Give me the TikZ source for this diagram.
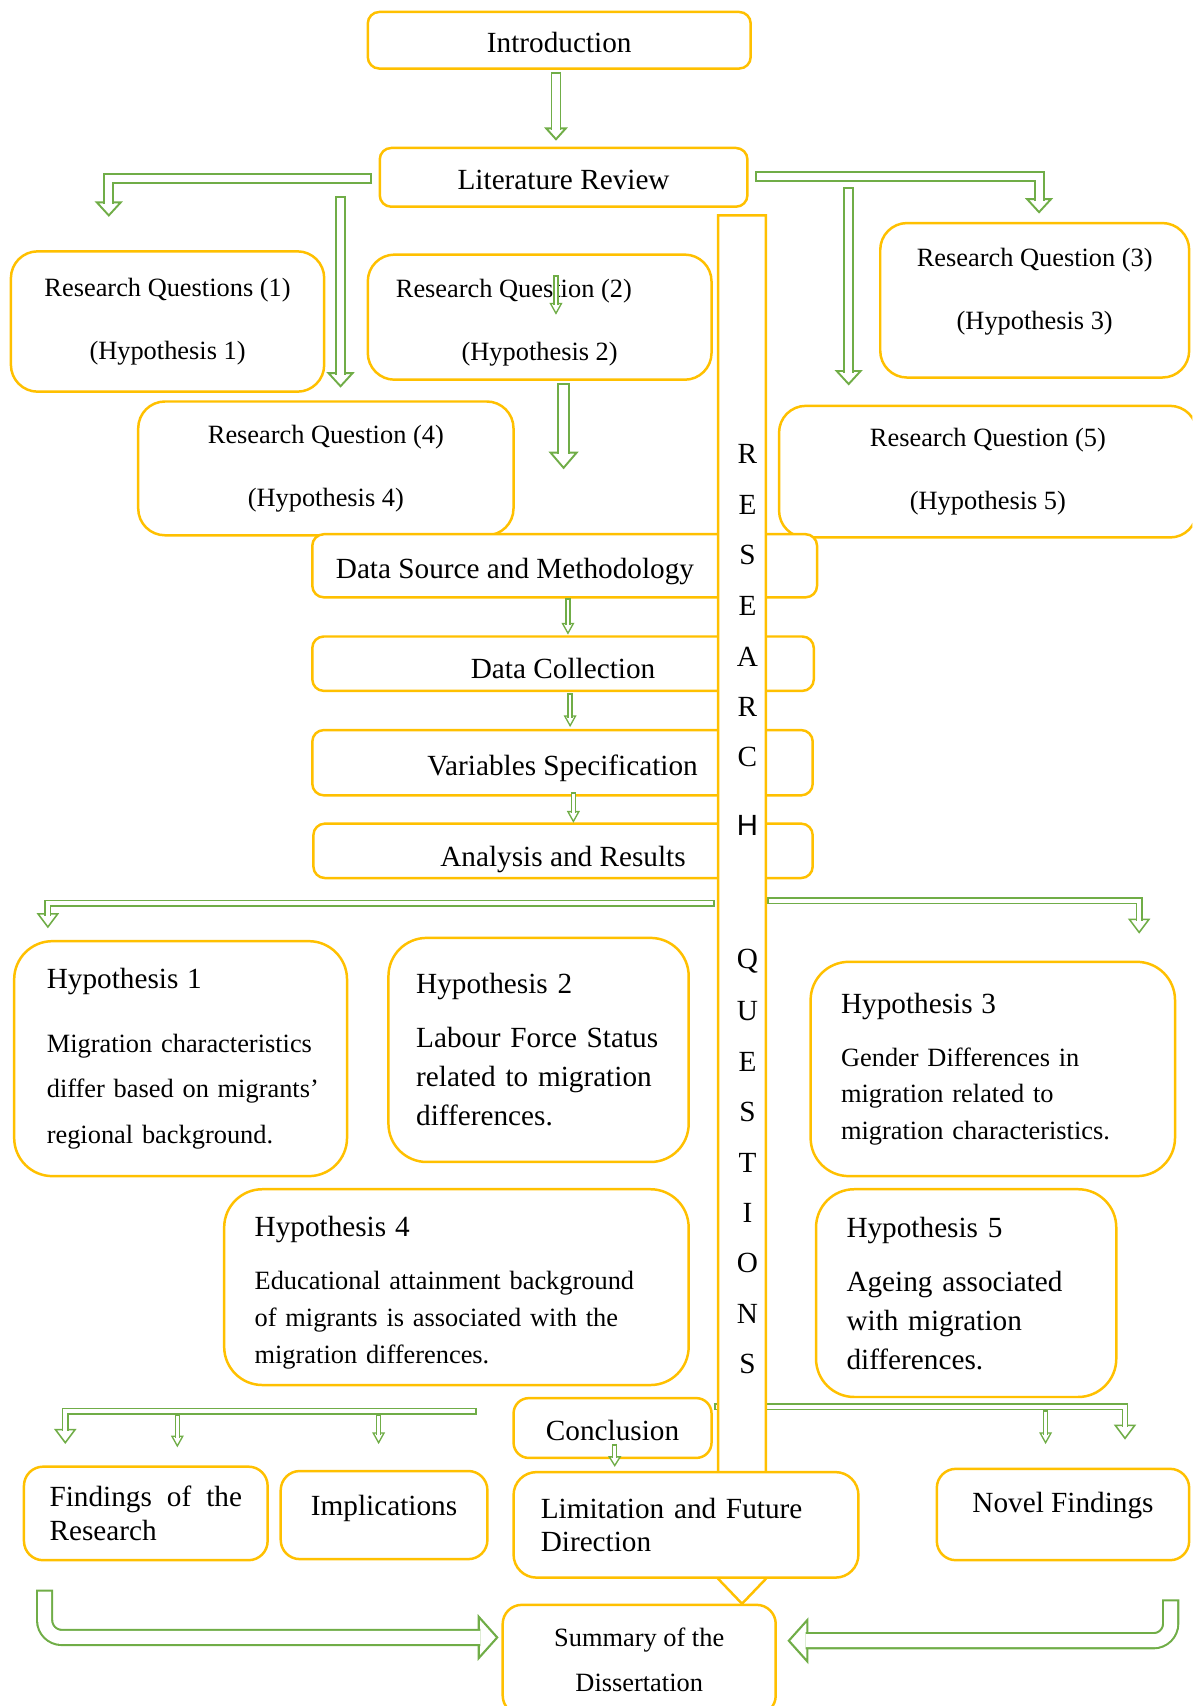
\documentclass[tikz,border=0pt]{standalone}
\usepackage{fontspec}
\setmainfont{Liberation Serif}
\setsansfont{Liberation Sans}
\usetikzlibrary{calc}

\definecolor{boxorange}{HTML}{FFC000}
\definecolor{arrgreen}{HTML}{70AD47}

\newcommand\bigtxt{\fontsize{15.3pt}{18pt}\selectfont}

% outlined block arrows: green stroke with a white core, open triangle head
\newcommand\shaft[3]{%
  \draw[draw=arrgreen, line width=#1] #3;
  \draw[draw=white, line width=#2, shorten <=1pt] #3;}
\newcommand\headD[4][]{\draw[ahead, #1] ($(#2)+(-#3,-#4)$) -- (#2) -- ($(#2)+(#3,-#4)$) -- cycle;}
\newcommand\headR[4][]{\draw[ahead, #1] ($(#2)+(-#4,-#3)$) -- (#2) -- ($(#2)+(-#4,#3)$) -- cycle;}
\newcommand\headL[4][]{\draw[ahead, #1] ($(#2)+(#4,-#3)$) -- (#2) -- ($(#2)+(#4,#3)$) -- cycle;}

\begin{document}
\begin{tikzpicture}[x=0.02cm, y=-0.02cm,
  box/.style={draw=boxorange, line width=1.3pt, fill=white, rounded corners=6pt, inner sep=0pt, font=\bigtxt},
  oneline/.style={text height=13.5pt, text depth=0.3pt},
  qbox/.style={box, rounded corners=14pt, align=center, font=\fontsize{13.8pt}{33pt}\selectfont},
  hbox/.style={box, rounded corners=20pt, align=left},
  ahead/.style={draw=arrgreen, fill=white, line width=1pt},
  letter/.style={inner sep=0pt, font=\bigtxt}]
		\useasboundingbox (0,0) rectangle (1096,1568);
		\clip (0,0) rectangle (1096,1568);
		%%%%%%%%%%%%%
		\node[box, oneline, minimum width=7.04cm, minimum height=1.04cm] (intro) at (514,37) {Introduction};
		\node[box, oneline, minimum width=6.76cm, minimum height=1.08cm] (litrev) at (518,163) {Literature Review};
		%%%%%%%%%%%%%
		\node[qbox, minimum width=5.76cm, minimum height=2.58cm] (rq1) at (154,295.5) {Research Questions (1)\\(Hypothesis 1)};
		\node[qbox, minimum width=6.32cm, minimum height=2.30cm] (rq2) at (496,291.5) {\rule{0pt}{15.2pt}Research Question (2)\hspace*{27pt}\\(Hypothesis 2)};
		\node[qbox, minimum width=5.68cm, minimum height=2.84cm] (rq3) at (951,276) {Research Question (3)\\(Hypothesis 3)\rule[-12pt]{0pt}{0pt}};
		\node[qbox, minimum width=6.90cm, minimum height=2.46cm] (rq4) at (299.5,430.5) {Research Question (4)\\(Hypothesis 4)};
		\node[qbox, minimum width=7.68cm, minimum height=2.42cm] (rq5) at (908,433.5) {Research Question (5)\\(Hypothesis 5)};
		%%%%%%%%%%%%%
		\node[box, oneline, minimum width=9.28cm, minimum height=1.16cm] (dsm) at (519,520) {Data Source and Methodology\hspace*{52pt}};
		\node[box, text height=15pt, text depth=0pt, minimum width=9.22cm, minimum height=1.00cm] (dcol) at (517.5,610) {Data Collection};
		\node[box, oneline, minimum width=9.20cm, minimum height=1.20cm] (vars) at (517,701) {Variables Specification};
		\node[box, text height=16.5pt, text depth=0pt, minimum width=9.18cm, minimum height=1.00cm] (anres) at (517.5,782) {Analysis and Results};
		%%%%%%%%%%%%%
		\node[hbox, text width=4.92cm, minimum width=6.12cm, minimum height=4.32cm, font=\fontsize{13.8pt}{23.8pt}\selectfont] (hyp1) at (166,973)
			{{\bigtxt Hypothesis 1}\\[9.6pt]Migration characteristics\\\mbox{differ based on migrants’}\\regional background.};
		\node[hbox, text width=4.5cm, minimum width=5.52cm, minimum height=4.12cm, font=\fontsize{15.3pt}{20.4pt}\selectfont] (hyp2) at (495,965)
			{Hypothesis 2\\[7.9pt]Labour Force Status\\related to migration\\differences.};
		\node[hbox, text width=5.58cm, minimum width=6.70cm, minimum height=3.94cm, font=\fontsize{13.8pt}{19pt}\selectfont] (hyp3) at (912.5,982.5)
			{{\bigtxt Hypothesis 3}\\[8.8pt]Gender Differences in\\migration related to\\migration characteristics.};
		\node[hbox, text width=7.42cm, minimum width=8.54cm, minimum height=3.60cm, font=\fontsize{13.8pt}{19.3pt}\selectfont] (hyp4) at (419.5,1183)
			{{\bigtxt\rule{0pt}{16pt}Hypothesis 4}\\[8.5pt]Educational attainment background\\of migrants is associated with the\\migration differences.};
		\node[hbox, text width=4.4cm, minimum width=5.52cm, minimum height=3.82cm, font=\fontsize{15.3pt}{20.4pt}\selectfont] (hyp5) at (888,1188.5)
			{Hypothesis 5\\[7.9pt]Ageing associated\\with migration\\differences.};
		%%%%%%%%%%%%%
		\node[box, oneline, rounded corners=8pt, minimum width=3.64cm, minimum height=1.10cm] (concl) at (563,1312.5) {Conclusion};
		\node[box, rounded corners=10pt, align=left, text width=3.54cm, minimum width=4.48cm, minimum height=1.72cm, font=\fontsize{15.3pt}{17.6pt}\selectfont] (find) at (134,1391)
			{\makebox[3.54cm]{Findings\hfill of\hfill the}\\Research};
		\node[box, rounded corners=10pt, text height=10.5pt, text depth=10.5pt, minimum width=3.80cm, minimum height=1.62cm] (impl) at (353,1392.5) {Implications};
		\node[box, rounded corners=10pt, text height=10.5pt, text depth=12.7pt, minimum width=4.64cm, minimum height=1.68cm] (novel) at (977,1392) {Novel Findings};
		\node[box, rounded corners=10pt, align=center, minimum width=5.02cm, minimum height=2.02cm, font=\fontsize{13.8pt}{23.8pt}\selectfont] (summ) at (587.5,1525.5)
			{Summary of the\\Dissertation};
		%%%%%%%%%%%%%
		\coordinate (a0) at (511,66); \coordinate (a1) at (511,128);
		\headD{a1}{9}{10}
		\shaft{5.7pt}{3.7pt}{(a0) -- ($(a1)+(0,-8.5)$)}
		\coordinate (b0) at (342,164); \coordinate (b1) at (100,198);
		\headD{b1}{11}{12}
		\shaft{5.7pt}{3.7pt}{(b0) -| ($(b1)+(0,-10.5)$)}
		\coordinate (c0) at (313,180); \coordinate (c1) at (313,355);
		\headD{c1}{11}{12}
		\shaft{5.7pt}{3.7pt}{(c0) -- ($(c1)+(0,-10.5)$)}
		\coordinate (d0) at (511,253); \coordinate (d1) at (511,288);
		\headD[line width=0.7pt]{d1}{5}{9}
		\shaft{2.8pt}{1.4pt}{(d0) -- ($(d1)+(0,-7.5)$)}
		\coordinate (e0) at (518,352); \coordinate (e1) at (518,430);
		\headD{e1}{12}{14}
		\shaft{6.8pt}{4.8pt}{(e0) -- ($(e1)+(0,-12.5)$)}
		\coordinate (f0) at (694,162); \coordinate (f1) at (955,195);
		\headD{f1}{11}{12}
		\shaft{5.7pt}{3.7pt}{(f0) -| ($(f1)+(0,-10.5)$)}
		\coordinate (g0) at (780,172); \coordinate (g1) at (780,353);
		\headD{g1}{11}{12}
		\shaft{5.7pt}{3.7pt}{(g0) -- ($(g1)+(0,-10.5)$)}
		%%%%%%%%%%%%%
		\coordinate (h0) at (522,550); \coordinate (h1) at (522,582);
		\headD[line width=0.7pt]{h1}{5}{9}
		\shaft{2.8pt}{1.4pt}{(h0) -- ($(h1)+(0,-7.5)$)}
		\coordinate (i0) at (524,637); \coordinate (i1) at (524,667);
		\headD[line width=0.7pt]{i1}{5}{9}
		\shaft{2.8pt}{1.4pt}{(i0) -- ($(i1)+(0,-7.5)$)}
		\coordinate (j0) at (527,728); \coordinate (j1) at (527,755);
		\headD[line width=0.7pt]{j1}{5}{9}
		\shaft{2.8pt}{1.4pt}{(j0) -- ($(j1)+(0,-7.5)$)}
		%%%%%%%%%%%%%
		\coordinate (k0) at (657,830); \coordinate (k1) at (44,852);
		\headD[line width=0.8pt]{k1}{9}{12}
		\shaft{3.6pt}{2pt}{(k0) -| ($(k1)+(0,-10.5)$)}
		\coordinate (l0) at (705,828); \coordinate (l1) at (1047,857);
		\headD[line width=0.8pt]{l1}{9}{12}
		\shaft{3.6pt}{2pt}{(l0) -| ($(l1)+(0,-10.5)$)}
		%%%%%%%%%%%%%
		\coordinate (m0) at (438,1297); \coordinate (m1) at (60,1326);
		\headD[line width=0.8pt]{m1}{9}{12}
		\shaft{3.6pt}{2pt}{(m0) -| ($(m1)+(0,-10.5)$)}
		\coordinate (m2) at (163,1300); \coordinate (m3) at (163,1329);
		\headD[line width=0.7pt]{m3}{5}{9}
		\shaft{2.8pt}{1.4pt}{(m2) -- ($(m3)+(0,-7.5)$)}
		\coordinate (m4) at (348,1300); \coordinate (m5) at (348,1326);
		\headD[line width=0.7pt]{m5}{5}{9}
		\shaft{2.8pt}{1.4pt}{(m4) -- ($(m5)+(0,-7.5)$)}
		\coordinate (n0) at (656,1293); \coordinate (n1) at (1034,1322);
		\headD[line width=0.8pt]{n1}{9}{12}
		\shaft{3.6pt}{2pt}{(n0) -| ($(n1)+(0,-10.5)$)}
		\coordinate (n2) at (961,1296); \coordinate (n3) at (961,1326);
		\headD[line width=0.7pt]{n3}{5}{9}
		\shaft{2.8pt}{1.4pt}{(n2) -- ($(n3)+(0,-7.5)$)}
		\coordinate (o0) at (565,1327); \coordinate (o1) at (565,1347);
		\headD[line width=0.7pt]{o1}{5}{8}
		\shaft{2.8pt}{1.4pt}{(o0) -- ($(o1)+(0,-6.5)$)}
		%%%%%%%%%%%%%
		\coordinate (p0) at (41,1461); \coordinate (p1) at (457,1505);
		\headR[line width=1.1pt]{p1}{19}{17}
		\shaft{9pt}{6.8pt}{[rounded corners=9pt] (p0) |- ($(p1)+(-15.5,0)$)}
		\coordinate (q0) at (1076,1470); \coordinate (q1) at (725,1508);
		\headL[line width=1.1pt]{q1}{19}{17}
		\shaft{9pt}{6.8pt}{[rounded corners=9pt] (q0) |- ($(q1)+(15.5,0)$)}
		%%%%%%%%%%%%%
		\draw[draw=boxorange, line width=1.3pt, fill=white] (660,198) -- (704,198) -- (704,1451) -- (682,1474) -- (660,1451) -- cycle;
		\foreach \ch/\yy in {R/417, E/464, S/510, E/557, A/604, R/650, C/696, {\sffamily H}/759, Q/883, U/929, E/976, S/1022, T/1069, I/1115, O/1161, N/1208, S/1254}
			\node[letter] (ltr\yy) at (687,\yy) {\ch};
		\node[box, rounded corners=12pt, align=left, text width=5.34cm, minimum width=6.34cm, minimum height=1.94cm, font=\fontsize{15.3pt}{17.6pt}\selectfont] (limit) at (630.5,1401.5)
			{Limitation and Future\\Direction};
\end{tikzpicture}
\end{document}
